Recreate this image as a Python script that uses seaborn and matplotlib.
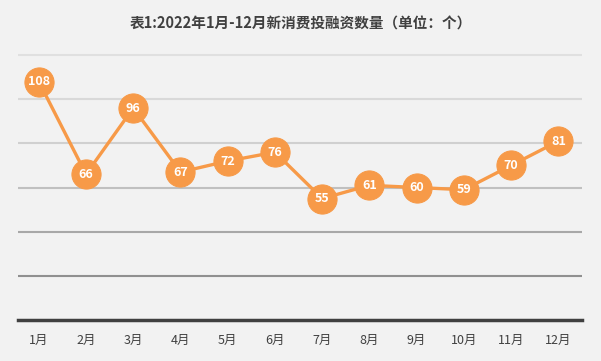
import matplotlib
matplotlib.use("Agg")
import matplotlib.pyplot as plt
import seaborn as sns
import pandas as pd

# data
months = ["1月", "2月", "3月", "4月", "5月", "6月", "7月", "8月", "9月", "10月", "11月", "12月"]
counts = [108, 66, 96, 67, 72, 76, 55, 61, 60, 59, 70, 81]
grid_levels = [20, 40, 60, 80, 100, 120]
grid_colors = ["#909090", "#a8a8a8", "#c0c0c0", "#d0d0d0", "#d9d9d9", "#e0e0e0"]

title = "表1:2022年1月-12月新消费投融资数量（单位：个）"
orange = "#f79a48"
bg = "#f2f2f2"

sns.set_theme(style="white")
plt.rcParams["font.family"] = ["Noto Sans CJK SC", "DejaVu Sans"]

df = pd.DataFrame({"idx": range(len(months)), "month": months, "count": counts})

fig = plt.figure(figsize=(6.01, 3.61), dpi=100, facecolor=bg)
ax = fig.add_axes([18 / 601, 1 - 320 / 361, 564 / 601, (320 - 44) / 361])
ax.set_facecolor(bg)

# horizontal gridlines, darker toward the bottom
for lvl, c in zip(grid_levels, grid_colors):
    ax.axhline(lvl, color=c, lw=1.5, zorder=1)

sns.lineplot(data=df, x="idx", y="count", ax=ax, color=orange, lw=2.4,
             marker="o", markersize=21, markeredgecolor=orange,
             markerfacecolor=orange, zorder=3)

for i, v in zip(df["idx"], df["count"]):
    ax.text(i, v, str(v), ha="center", va="center", color="white",
            fontsize=9, fontweight="bold", zorder=4)

ax.set_xlim(-0.44, 11.5)
ax.set_ylim(0, 125)
ax.set_xticks(df["idx"])
ax.set_xticklabels(months, fontsize=9, color="#404040")
ax.tick_params(axis="x", length=0, pad=10)
ax.set_yticks([])
ax.set_xlabel("")
ax.set_ylabel("")
for s in ["top", "right", "left"]:
    ax.spines[s].set_visible(False)
ax.spines["bottom"].set_color("#404040")
ax.spines["bottom"].set_linewidth(2.5)
ax.spines["bottom"].set_zorder(5)

fig.text(0.5, 1 - 24 / 361, title, ha="center", va="center",
         fontsize=10.5, fontweight="bold", color="#404040")

fig.savefig("out.png", dpi=100, facecolor=bg)
